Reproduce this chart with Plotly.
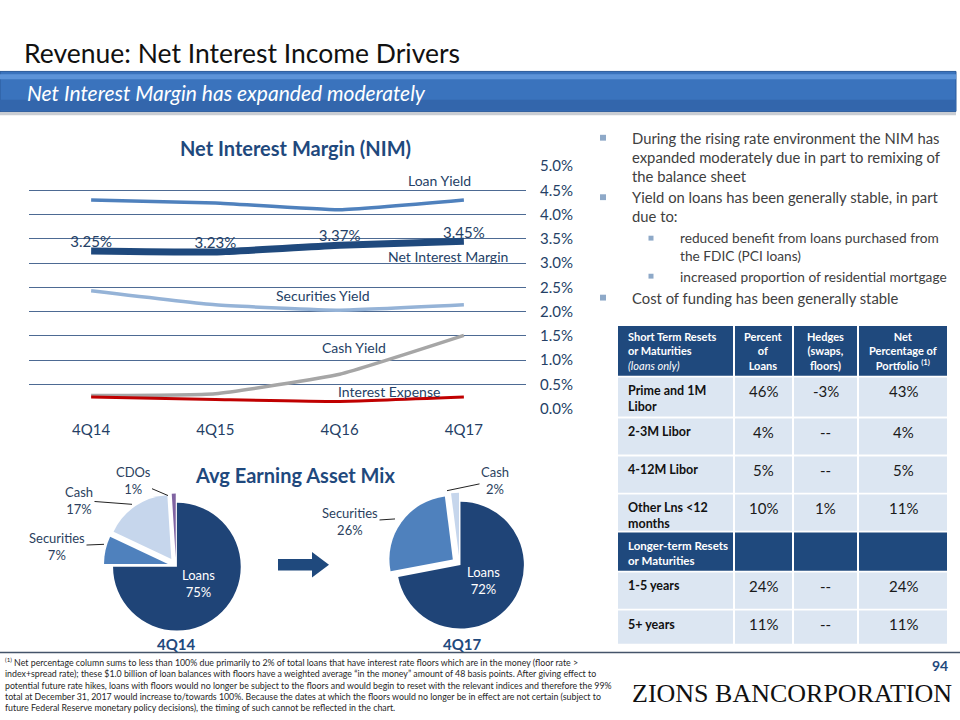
import plotly.graph_objects as go

W, H = 960, 720
FONT = "Lato"
NAVY = "#1F497D"
TEXT_BLUE = "#253F66"

# line chart data (percent)
quarters = ["4Q14", "4Q15", "4Q16", "4Q17"]
loan_yield = [4.30, 4.24, 4.10, 4.30]
nim = [3.25, 3.23, 3.37, 3.45]
securities_yield = [2.43, 2.14, 2.03, 2.14]
cash_yield = [0.27, 0.31, 0.71, 1.51]
interest_expense = [0.24, 0.19, 0.15, 0.24]

# earning asset mix
mix_labels_14 = ["Loans", "Securities", "Cash", "CDOs"]
mix_values_14 = [75, 7, 17, 1]
mix_labels_17 = ["Loans", "Securities", "Cash"]
mix_values_17 = [72, 26, 2]
mix_colors = {"Loans": "#1F4477", "Securities": "#4F81BD", "Cash": "#C6D6EC", "CDOs": "#8064A2"}

# repricing table
table_header = [
    "<b>Short Term Resets<br>or Maturities</b><br><i>(loans only)</i>",
    "<b>Percent<br>of<br>Loans</b>",
    "<b>Hedges<br>(swaps,<br>floors)</b>",
    "<b>Net<br>Percentage of<br>Portfolio <sup>(1)</sup></b>",
]
row_labels = ["Prime and 1M<br>Libor", "2-3M Libor", "4-12M Libor", "Other Lns &lt;12<br>months",
              "Longer-term Resets<br>or Maturities", "1-5 years", "5+ years"]
pct_loans = ["46%", "4%", "5%", "10%", "", "24%", "11%"]
hedges = ["-3%", "--", "--", "1%", "", "--", "--"]
net_pct = ["43%", "4%", "5%", "11%", "", "24%", "11%"]
section_row = 4

bullets = [
    "During the rising rate environment the NIM has<br>expanded moderately due in part to remixing of<br>the balance sheet",
    "Yield on loans has been generally stable, in part<br>due to:",
    "Cost of funding has been generally stable",
]
sub_bullets = [
    "reduced benefit from loans purchased from<br>the FDIC (PCI loans)",
    "increased proportion of residential mortgage",
]

footnote = (
    "<sup>(1)</sup> Net percentage column sums to less than 100% due primarily to 2% of total loans that have interest rate floors which are in the money (floor rate &gt;<br>"
    "index+spread rate); these $1.0 billion of loan balances with floors have a weighted average \u201cin the money\u201d amount of 48 basis points. After giving effect to<br>"
    "potential future rate hikes, loans with floors would no longer be subject to the floors and would begin to reset with the relevant indices and therefore the 99%<br>"
    "total at December 31, 2017 would increase to/towards 100%. Because the dates at which the floors would no longer be in effect are not certain (subject to<br>"
    "future Federal Reserve monetary policy decisions), the timing of such cannot be reflected in the chart."
)

# table geometry (pixels)
col_edges = [617, 734, 793, 858, 948]
row_edges = [324, 376, 418, 457, 496, 535, 576, 615, 651]


def px(x, y):
    return x / W, 1 - y / H


def text(x, y, s, size, color, xanchor="center", yanchor="middle", align="center", **kw):
    fx, fy = px(x, y)
    return dict(x=fx, y=fy, xref="paper", yref="paper", text=s, showarrow=False,
                xanchor=xanchor, yanchor=yanchor, align=align,
                font=dict(family=kw.pop("family", FONT), size=size, color=color), **kw)


def rect(x0, y0, x1, y1, color, line=None):
    a, b = px(x0, y0)
    c, d = px(x1, y1)
    return dict(type="rect", xref="paper", yref="paper", x0=a, y0=d, x1=c, y1=b,
                fillcolor=color, line=dict(width=0) if line is None else line, layer="below")


fig = go.Figure()

# NIM line chart
series = [
    ("Loan Yield", loan_yield, "#4F81BD", 3.5),
    ("Securities Yield", securities_yield, "#95B3D7", 3.5),
    ("Cash Yield", cash_yield, "#A6A6A6", 3.5),
    ("Interest Expense", interest_expense, "#C00000", 3),
]
for name, vals, color, width in series:
    fig.add_trace(go.Scatter(x=quarters, y=vals, mode="lines", name=name,
                             line=dict(color=color, width=width, shape="spline", smoothing=0.4)))
fig.add_trace(go.Scatter(x=quarters, y=nim, mode="lines+text", name="Net Interest Margin",
                         line=dict(color=NAVY, width=7, shape="spline", smoothing=0.4),
                         text=[f"{v:.2f}%" for v in nim], textposition="top center",
                         textfont=dict(family=FONT, size=15, color=TEXT_BLUE)))

# asset mix pies
pie_specs = [
    (mix_labels_14, mix_values_14, (102, 250), (496, 644)),
    (mix_labels_17, mix_values_17, (386, 533), (495, 642)),
]
for labels, vals, (x0, x1), (y0, y1) in pie_specs:
    fig.add_trace(go.Pie(
        labels=labels, values=vals, sort=False, direction="clockwise", rotation=0,
        marker=dict(colors=[mix_colors[l] for l in labels], line=dict(width=0)),
        pull=[0.02] + [0.13] * (len(labels) - 1), textinfo="none", hoverinfo="label+percent",
        domain=dict(x=[x0 / W, x1 / W], y=[1 - y1 / H, 1 - y0 / H]),
    ))

annotations = [
    text(22, 44, "Revenue: Net Interest Income Drivers", 26.5, "#111111", xanchor="left"),
    text(25, 85, "<i>Net Interest Margin has expanded moderately</i>", 21, "white", xanchor="left"),
    text(295, 142, "<b>Net Interest Margin (NIM)</b>", 20, NAVY),
    text(295, 477, "<b>Avg Earning Asset Mix</b>", 20, NAVY),
    text(176, 650, "<b>4Q14</b>", 15, NAVY),
    text(462, 650, "<b>4Q17</b>", 15, NAVY),
    text(439, 175, "Loan Yield", 14, TEXT_BLUE),
    text(448, 253, "Net Interest Margin", 14, TEXT_BLUE),
    text(323, 293, "Securities Yield", 14, TEXT_BLUE),
    text(354, 346, "Cash Yield", 14, TEXT_BLUE),
    text(389, 391, "Interest Expense", 14, TEXT_BLUE),
    text(3, 661, footnote, 8.8, "#262626", xanchor="left", yanchor="top", align="left"),
    text(950, 672, "<b>94</b>", 14, NAVY, xanchor="right"),
    text(792, 701, "ZIONS BANCORPORATION", 26, "#111111", family="Liberation Serif"),
]

shapes = [
    # title banner
    rect(0, 104, 956, 108, "#C9CDD3"),
    rect(0, 63, 956, 104, "#3A73BD", line=dict(color="#2A5A9A", width=1)),
    rect(0, 66, 956, 71, "#5C93D8"),
    rect(0, 92, 956, 103, "#3366AC"),
    # footer rule
    dict(type="line", xref="paper", yref="paper", x0=0, x1=1, y0=1 - 659 / H, y1=1 - 659 / H,
         line=dict(color="#44546A", width=1.5)),
]

# table: header row, then body rows
hy0, hy1 = row_edges[0], row_edges[1]
for c in range(4):
    shapes.append(rect(col_edges[c] + 1, hy0, col_edges[c + 1] - 1, hy1 - 1, NAVY))
annotations.append(text(col_edges[0] + 9, (hy0 + hy1) / 2, table_header[0], 11, "white",
                        xanchor="left", align="left"))
for c in range(1, 4):
    annotations.append(text((col_edges[c] + col_edges[c + 1]) / 2, (hy0 + hy1) / 2,
                            table_header[c], 11, "white"))

columns = [row_labels, pct_loans, hedges, net_pct]
for r in range(len(row_labels)):
    y0, y1 = row_edges[r + 1] + 1, row_edges[r + 2] - 1
    section = r == section_row
    for c in range(4):
        shapes.append(rect(col_edges[c] + 1, y0, col_edges[c + 1] - 1, y1,
                           NAVY if section else "#DCE6F2"))
    if section:
        annotations.append(text(col_edges[0] + 9, y0 + 4, f"<b>{row_labels[r]}</b>", 11.5,
                                "white", xanchor="left", yanchor="top", align="left"))
    else:
        annotations.append(text(col_edges[0] + 9, y0 + 4, f"<b>{row_labels[r]}</b>", 12.5,
                                "#111111", xanchor="left", yanchor="top", align="left"))
    for c in range(1, 4):
        if columns[c][r]:
            annotations.append(text((col_edges[c] + col_edges[c + 1]) / 2, y0 + 14,
                                    columns[c][r], 15, "#1A1A1A"))

# pie labels
pie_label_color = "#2B3F5E"
annotations.append(text(198, 588, f"{mix_labels_14[0]}<br>{mix_values_14[0]}%", 13, "white"))
annotations.append(text(483, 585, f"{mix_labels_17[0]}<br>{mix_values_17[0]}%", 13, "white"))
leaders = [
    (mix_labels_14[1], mix_values_14[1], (104, 548), (-47, 2)),
    (mix_labels_14[2], mix_values_14[2], (132, 507), (-53, -4)),
    (mix_labels_14[3], mix_values_14[3], (168, 498), (-35, -15)),
    (mix_labels_17[1], mix_values_17[1], (395, 522), (-45, 3)),
    (mix_labels_17[2], mix_values_17[2], (447, 493), (48, -10)),
]
for lab, val, (x, y), (ax, ay) in leaders:
    fx, fy = px(x, y)
    annotations.append(dict(x=fx, y=fy, xref="paper", yref="paper", text=f"{lab}<br>{val}%",
                            showarrow=True, arrowhead=0, arrowwidth=1, arrowcolor="#222222",
                            ax=ax, ay=ay, standoff=0,
                            font=dict(family=FONT, size=13, color=pie_label_color)))

# bullets
BODY = "#404040"
annotations.append(text(630, 151, bullets[0], 14.8, BODY, xanchor="left", align="left"))
annotations.append(text(630, 202, bullets[1], 14.8, BODY, xanchor="left", align="left"))
annotations.append(text(678, 243, sub_bullets[0], 13.7, BODY, xanchor="left", align="left"))
annotations.append(text(678, 273, sub_bullets[1], 13.7, BODY, xanchor="left", align="left"))
annotations.append(text(630, 295, bullets[2], 14.8, BODY, xanchor="left", align="left"))
for bx, by, s in [(603, 131, 6), (603, 192, 6), (651, 234, 5), (651, 273, 5), (603, 295, 6)]:
    shapes.append(rect(bx - s / 2, by - s / 2, bx + s / 2, by + s / 2, "#8EA9C8"))

# arrow between pies
pts = [(278, 563), (312, 563), (312, 556), (329, 569), (312, 582), (312, 575), (278, 575)]
path = "M " + " L ".join(f"{x / W:.5f},{1 - y / H:.5f}" for x, y in pts) + " Z"
shapes.append(dict(type="path", xref="paper", yref="paper", path=path,
                   fillcolor=NAVY, line=dict(width=0)))

fig.update_layout(
    width=W, height=H, margin=dict(l=0, r=0, t=0, b=0),
    paper_bgcolor="white", plot_bgcolor="white", showlegend=False,
    font=dict(family=FONT),
    xaxis=dict(domain=[29 / W, 526 / W], range=[-0.5, 3.5], showgrid=False, showline=False,
               ticks="", ticklabelstandoff=10, tickfont=dict(size=15, color=TEXT_BLUE),
               fixedrange=True),
    yaxis=dict(domain=[1 - 409 / H, 1 - 160 / H], range=[-0.002, 5.002], side="right",
               dtick=0.5, tickformat=".1f", ticksuffix="%", showgrid=True,
               gridcolor="#4D6A93", gridwidth=1, zeroline=False, showline=False,
               ticklabelstandoff=13, tickfont=dict(size=15, color=TEXT_BLUE), fixedrange=True),
    annotations=annotations,
    shapes=shapes,
)

fig.write_html("out.html", config={"displayModeBar": False},
               post_script="document.body.style.margin='0';")
